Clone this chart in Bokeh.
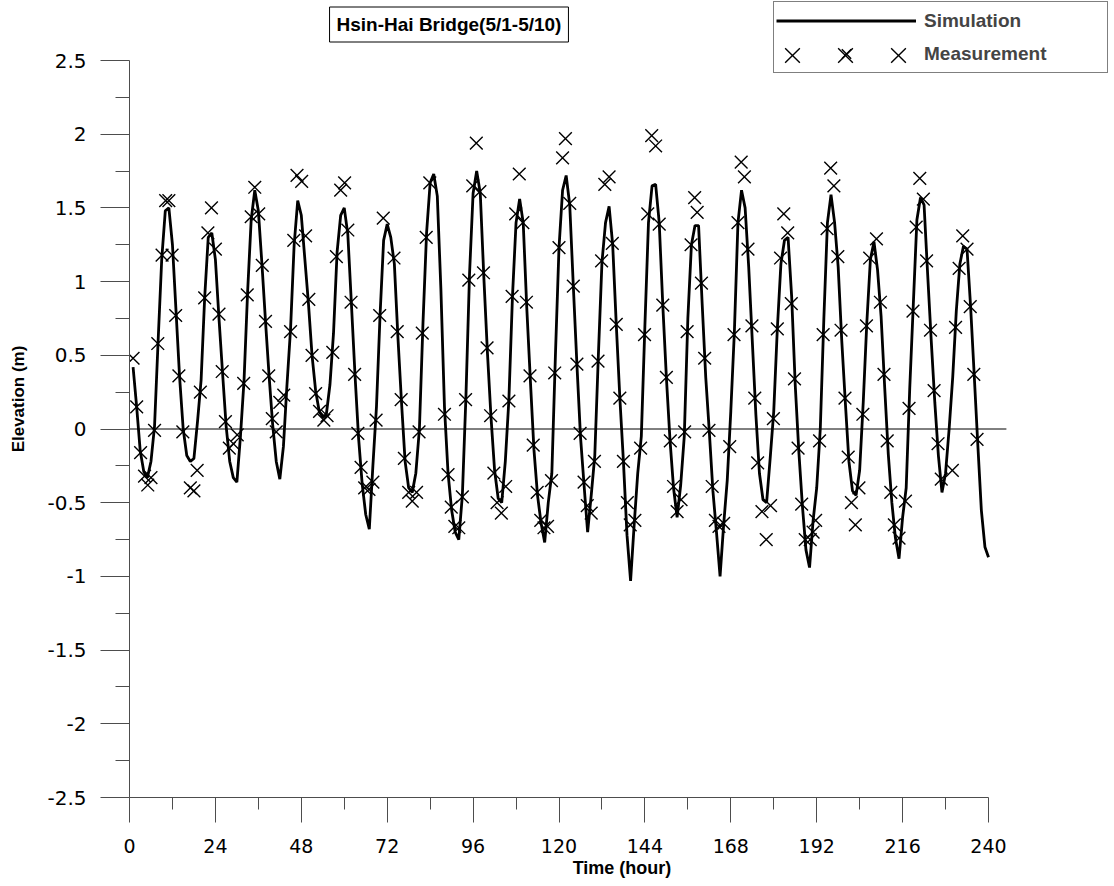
from bokeh.plotting import figure
from bokeh.models import (Range1d, FixedTicker, CustomJSTickFormatter, Label,
                          Legend, LegendItem, ColumnDataSource)
from bokeh.embed import file_html
from bokeh.resources import INLINE

# ---------------- data ----------------
title_text = "Hsin-Hai Bridge(5/1-5/10)"
x_title = "Time (hour)"
y_title = "Elevation (m)"
series_names = ["Simulation", "Measurement"]

x_ticks = [0, 24, 48, 72, 96, 120, 144, 168, 192, 216, 240]
x_minor = [12, 36, 60, 84, 108, 132, 156, 180, 204, 228]
y_ticks = [-2.5, -2, -1.5, -1, -0.5, 0, 0.5, 1, 1.5, 2, 2.5]
y_minor = [-2.25, -1.75, -1.25, -0.75, -0.25, 0.25, 0.75, 1.25, 1.75, 2.25]

sim_hour = list(range(1, 241))
sim_elev = [
    0.42, 0.15, -0.15, -0.29, -0.33, -0.22, 0.02, 0.60, 1.15, 1.48,        # 1-10
    1.50, 1.25, 0.80, 0.35, 0.00, -0.18, -0.22, -0.20, 0.05, 0.33,         # 11-20
    0.89, 1.30, 1.33, 1.15, 0.75, 0.38, 0.02, -0.22, -0.33, -0.36,         # 21-30
    -0.05, 0.33, 0.93, 1.42, 1.62, 1.48, 1.12, 0.73, 0.36, 0.03,           # 31-40
    -0.22, -0.34, -0.12, 0.30, 0.68, 1.25, 1.55, 1.45, 1.15, 0.85,         # 41-50
    0.50, 0.26, 0.12, 0.08, 0.10, 0.30, 0.65, 1.20, 1.45, 1.50,            # 51-60
    1.32, 0.85, 0.37, -0.06, -0.37, -0.58, -0.68, -0.25, 0.15, 0.77,       # 61-70
    1.28, 1.39, 1.30, 1.12, 0.62, 0.18, -0.22, -0.40, -0.43, -0.30,        # 71-80
    0.00, 0.72, 1.33, 1.67, 1.73, 1.58, 0.95, 0.15, -0.30, -0.55,          # 81-90
    -0.70, -0.75, -0.45, 0.22, 1.05, 1.60, 1.75, 1.60, 1.03, 0.52,         # 91-100
    0.08, -0.28, -0.47, -0.50, -0.22, 0.20, 0.90, 1.40, 1.56, 1.40,        # 101-110
    0.82, 0.33, -0.14, -0.45, -0.64, -0.77, -0.50, -0.30, 0.50, 1.23,      # 111-120
    1.62, 1.72, 1.52, 0.97, 0.44, -0.05, -0.38, -0.70, -0.45, -0.18,      # 121-130
    0.50, 1.13, 1.40, 1.51, 1.25, 0.71, 0.21, -0.22, -0.72, -1.03,         # 131-140
    -0.65, -0.30, -0.05, 0.70, 1.40, 1.65, 1.66, 1.40, 0.84, 0.35,         # 141-150
    -0.07, -0.40, -0.60, -0.38, -0.05, 0.75, 1.25, 1.38, 1.38, 0.85,       # 151-160
    0.35, -0.02, -0.42, -0.70, -1.00, -0.65, -0.35, 0.12, 0.66, 1.40,      # 161-170
    1.62, 1.50, 1.10, 0.60, 0.10, -0.30, -0.48, -0.50, -0.20, 0.12,        # 171-180
    0.68, 1.12, 1.28, 1.30, 0.90, 0.30, -0.15, -0.52, -0.82, -0.94,        # 181-190
    -0.62, -0.40, 0.00, 0.75, 1.40, 1.59, 1.40, 1.10, 0.60, 0.18,          # 191-200
    -0.22, -0.42, -0.45, -0.28, 0.18, 0.72, 1.15, 1.27, 1.08, 0.76,        # 201-210
    0.28, -0.17, -0.50, -0.74, -0.88, -0.60, -0.40, 0.28, 0.85, 1.42,      # 211-220
    1.57, 1.52, 1.05, 0.60, 0.18, -0.18, -0.43, -0.30, 0.00, 0.35,         # 221-230
    0.80, 1.12, 1.24, 1.22, 0.83, 0.37, -0.10, -0.55, -0.80, -0.87,        # 231-240
]

meas_hour = [
    1.0, 2.0, 3.1, 4.2, 5.1, 6.0, 7.0, 7.9, 9.1, 10.1,
    11.0, 11.9, 12.9, 13.8, 14.9, 17.0, 18.0, 18.9, 19.8, 21.0,
    21.9, 22.9, 24.0, 25.0, 25.9, 26.8, 27.9, 29.0, 30.1, 31.9,
    32.9, 34.0, 35.0, 36.1, 37.1, 38.0, 38.9, 39.9, 41.0, 42.0,
    43.1, 45.0, 45.9, 46.8, 48.1, 49.2, 50.1, 51.0, 52.0, 53.1,
    54.3, 55.2, 56.8, 57.8, 59.0, 60.1, 61.0, 61.9, 62.9, 63.8,
    64.7, 65.7, 66.9, 68.0, 68.9, 69.9, 70.9, 73.9, 74.8, 75.9,
    76.8, 78.0, 79.0, 80.2, 80.9, 81.8, 82.9, 83.9, 88.0, 89.0,
    89.9, 90.9, 92.0, 93.0, 93.9, 94.8, 95.9, 96.9, 97.9, 98.9,
    99.9, 100.9, 101.8, 102.7, 103.9, 105.1, 106.0, 106.9, 107.9, 108.9,
    109.9, 110.9, 111.9, 112.8, 113.9, 114.9, 115.8, 116.8, 117.9, 118.8,
    120.0, 121.0, 121.8, 123.0, 124.0, 125.0, 125.9, 127.0, 127.9, 129.0,
    129.9, 130.9, 131.9, 132.8, 134.0, 134.9, 136.0, 137.0, 138.0, 139.1,
    139.9, 141.2, 142.8, 143.9, 144.8, 145.9, 147.0, 148.0, 149.0, 150.0,
    151.1, 152.0, 153.0, 154.1, 155.1, 155.8, 156.9, 157.9, 158.6, 159.8,
    160.7, 161.9, 162.8, 163.7, 164.7, 166.0, 167.7, 168.9, 170.0, 170.9,
    171.8, 172.8, 173.9, 174.7, 175.5, 176.7, 177.9, 179.1, 179.9, 181.0,
    181.9, 182.8, 183.9, 184.9, 185.8, 186.8, 187.8, 188.8, 190.2, 191.0,
    191.7, 192.8, 193.8, 194.9, 195.9, 196.8, 197.9, 198.8, 199.9, 200.8,
    201.7, 202.8, 203.8, 204.9, 205.9, 206.8, 208.7, 209.8, 210.8, 211.7,
    212.7, 213.7, 215.0, 216.8, 217.8, 218.9, 219.8, 220.8, 221.8, 222.7,
    223.8, 224.8, 225.9, 226.8, 229.9, 230.8, 231.8, 232.8, 234.0, 234.9,
    235.9, 236.8,
]
meas_elev = [
    0.48, 0.15, -0.16, -0.32, -0.38, -0.33, -0.01, 0.58, 1.18, 1.55,
    1.55, 1.18, 0.77, 0.36, -0.02, -0.40, -0.42, -0.28, 0.25, 0.89,
    1.33, 1.50, 1.22, 0.78, 0.39, 0.05, -0.13, -0.10, -0.04, 0.31,
    0.91, 1.44, 1.64, 1.46, 1.11, 0.73, 0.36, 0.07, -0.02, 0.18,
    0.23, 0.66, 1.28, 1.72, 1.68, 1.31, 0.88, 0.50, 0.24, 0.12,
    0.06, 0.09, 0.52, 1.17, 1.62, 1.67, 1.35, 0.86, 0.37, -0.03,
    -0.26, -0.40, -0.41, -0.36, 0.06, 0.77, 1.43, 1.16, 0.66, 0.20,
    -0.20, -0.43, -0.49, -0.43, -0.02, 0.65, 1.30, 1.67, 0.10, -0.31,
    -0.53, -0.66, -0.67, -0.46, 0.20, 1.01, 1.65, 1.94, 1.61, 1.06,
    0.55, 0.09, -0.30, -0.50, -0.57, -0.39, 0.19, 0.90, 1.46, 1.73,
    1.40, 0.86, 0.36, -0.11, -0.43, -0.62, -0.67, -0.66, -0.35, 0.38,
    1.23, 1.84, 1.97, 1.53, 0.97, 0.44, -0.03, -0.36, -0.52, -0.57,
    -0.22, 0.46, 1.14, 1.66, 1.71, 1.26, 0.71, 0.21, -0.22, -0.50,
    -0.65, -0.62, -0.13, 0.64, 1.46, 1.99, 1.92, 1.39, 0.84, 0.35,
    -0.08, -0.39, -0.56, -0.48, -0.02, 0.66, 1.25, 1.57, 1.47, 0.99,
    0.48, -0.01, -0.39, -0.62, -0.66, -0.64, -0.12, 0.64, 1.40, 1.81,
    1.71, 1.22, 0.70, 0.21, -0.23, -0.56, -0.75, -0.52, 0.07, 0.68,
    1.16, 1.46, 1.33, 0.85, 0.34, -0.13, -0.51, -0.75, -0.75, -0.70,
    -0.62, -0.08, 0.64, 1.36, 1.77, 1.65, 1.17, 0.67, 0.21, -0.19,
    -0.50, -0.65, -0.40, 0.10, 0.70, 1.16, 1.29, 0.86, 0.37, -0.08,
    -0.43, -0.65, -0.74, -0.49, 0.14, 0.80, 1.37, 1.70, 1.56, 1.14,
    0.67, 0.26, -0.10, -0.34, -0.28, 0.69, 1.09, 1.31, 1.22, 0.83,
    0.37, -0.07,
]
assert len(sim_hour) == len(sim_elev)
assert len(meas_hour) == len(meas_elev)

zero_line_end = 245  # reference line at 0 m extends slightly past 240 h

# ---------------- layout (pixels) ----------------
FIG_W, FIG_H = 1114, 886
FRAME_LEFT, FRAME_BOTTOM_Y = 129, 797          # page pixels of (0 h, -2.5 m)
PX_PER_HOUR = 859 / 240.0
PX_PER_M = 737 / 5.0
x_end = (FIG_W - FRAME_LEFT) / PX_PER_HOUR
y_top = -2.5 + FRAME_BOTTOM_Y / PX_PER_M

BOLD_FONT = "Liberation Sans"
TICK_FONT = "DejaVu Sans"

p = figure(width=FIG_W, height=FIG_H, output_backend="svg", toolbar_location=None,
           x_range=Range1d(0, x_end), y_range=Range1d(-2.5, y_top),
           min_border_left=FRAME_LEFT, min_border_right=0, min_border_top=0,
           min_border_bottom=FIG_H - FRAME_BOTTOM_Y, background_fill_color="white",
           border_fill_color="white")
p.outline_line_color = None
p.xgrid.visible = False
p.ygrid.visible = False

# zero reference line
p.segment(x0=[0], y0=[0], x1=[zero_line_end], y1=[0], line_color="black", line_width=1)

src_sim = ColumnDataSource(dict(x=sim_hour, y=sim_elev))
src_meas = ColumnDataSource(dict(x=meas_hour, y=meas_elev))
r_sim = p.line("x", "y", source=src_sim, line_color="black", line_width=2.8)
r_meas = p.scatter("x", "y", source=src_meas, marker="x", size=18,
                   line_color="black", line_width=1.4)

fmt = CustomJSTickFormatter(code="return tick.toString();")
AX_COL = "#4d4d4d"

xa = p.xaxis[0]
xa.bounds = (0, 240)
xa.ticker = FixedTicker(ticks=x_ticks, minor_ticks=x_minor)
xa.formatter = fmt
xa.axis_label = x_title
xa.axis_label_text_font = BOLD_FONT
xa.axis_label_text_font_style = "bold"
xa.axis_label_text_font_size = "18px"
xa.axis_label_standoff = 2
xa.major_label_text_font = TICK_FONT
xa.major_label_text_font_size = "19px"
xa.major_label_standoff = 16
xa.major_tick_in = 0
xa.major_tick_out = 25
xa.minor_tick_in = 0
xa.minor_tick_out = 12

ya = p.yaxis[0]
ya.bounds = (-2.5, 2.5)
ya.ticker = FixedTicker(ticks=y_ticks, minor_ticks=y_minor)
ya.formatter = fmt
ya.axis_label = y_title
ya.axis_label_text_font = BOLD_FONT
ya.axis_label_text_font_style = "bold"
ya.axis_label_text_font_size = "17px"
ya.axis_label_standoff = 16
ya.major_label_text_font = TICK_FONT
ya.major_label_text_font_size = "20px"
ya.major_label_standoff = 14
ya.major_tick_in = 0
ya.major_tick_out = 29
ya.minor_tick_in = 0
ya.minor_tick_out = 14

for a in (xa, ya):
    a.axis_line_color = AX_COL
    a.major_tick_line_color = AX_COL
    a.minor_tick_line_color = AX_COL
    a.major_label_text_color = "black"
    a.axis_label_text_color = "black"

# title in a box (placed in data coordinates of the extended frame)
title_cx = (448.5 - FRAME_LEFT) / PX_PER_HOUR
title_cy = -2.5 + (FRAME_BOTTOM_Y - 24) / PX_PER_M
title = Label(x=title_cx, y=title_cy, text=title_text, text_align="center",
              text_baseline="middle", text_font=BOLD_FONT, text_font_style="bold",
              text_font_size="19px", text_color="black",
              border_line_color="black", border_line_width=1,
              background_fill_color="white", padding=7)
p.add_layout(title)

# main legend (box, line sample, labels)
LEG_LEFT, LEG_BOTTOM, LEG_RIGHT = 773, 73, 1106
GLYPH_W, GLYPH_H, LEG_PAD, LABEL_GAP = 140, 33, 2, 8
legend = Legend(items=[LegendItem(label=series_names[0], renderers=[r_sim]),
                       LegendItem(label=series_names[1], renderers=[r_meas])],
                location=(LEG_LEFT - FRAME_LEFT, FRAME_BOTTOM_Y - LEG_BOTTOM),
                orientation="vertical",
                border_line_color="black", border_line_width=1,
                background_fill_color="white", background_fill_alpha=1.0,
                glyph_width=GLYPH_W, glyph_height=GLYPH_H, label_height=GLYPH_H,
                spacing=0, padding=LEG_PAD, margin=0, label_standoff=LABEL_GAP,
                label_width=LEG_RIGHT - (LEG_LEFT + LEG_PAD + GLYPH_W + LABEL_GAP) - LEG_PAD,
                label_text_font=BOLD_FONT, label_text_font_style="bold",
                label_text_font_size="19px")
p.add_layout(legend)

# three larger crosses on the measurement row (the middle one covers the small one)
cross_gap = 53
BIG = 52
row2_center = LEG_BOTTOM - LEG_PAD - GLYPH_H / 2
extra = Legend(items=[LegendItem(label=" ", renderers=[r_meas]) for _ in range(3)],
               location=(LEG_LEFT + LEG_PAD + GLYPH_W / 2 - cross_gap - BIG / 2 - FRAME_LEFT,
                         FRAME_BOTTOM_Y - (row2_center + BIG / 2)),
               orientation="horizontal", border_line_color=None,
               background_fill_alpha=0.0, glyph_width=BIG, glyph_height=BIG,
               label_height=BIG, label_width=0, label_standoff=0,
               spacing=1, padding=0, margin=0, label_text_font_size="1px")
p.add_layout(extra)

open("out.html", "w").write(file_html(p, INLINE))
